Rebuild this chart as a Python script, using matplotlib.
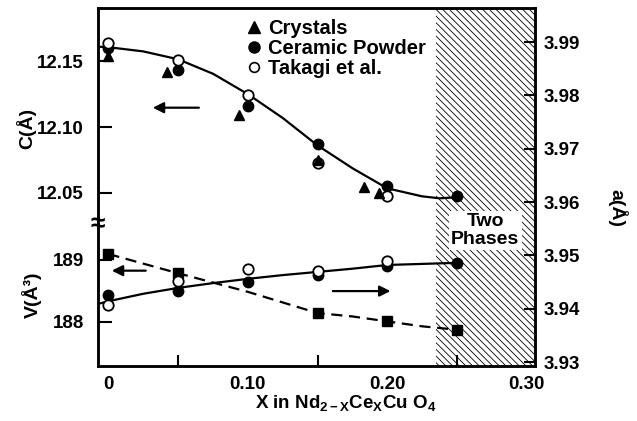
import matplotlib
matplotlib.use("Agg")
import matplotlib.pyplot as plt
from matplotlib.lines import Line2D

plt.rcParams['font.family'] = ['Liberation Sans', 'DejaVu Sans']
plt.rcParams['font.weight'] = 'bold'
plt.rcParams['mathtext.fontset'] = 'custom'
plt.rcParams['mathtext.rm'] = 'Liberation Sans:bold'
plt.rcParams['mathtext.it'] = 'Liberation Sans:bold'
plt.rcParams['mathtext.bf'] = 'Liberation Sans:bold'
plt.rcParams['hatch.linewidth'] = 0.6

# ---------------- data ----------------
# c-axis lattice parameter (left, upper scale)
x_cryst = [0.0, 0.042, 0.094, 0.15, 0.183, 0.194]
c_cryst = [12.1537, 12.142, 12.109, 12.075, 12.0544, 12.0498]
x_ceram = [0.0, 0.05, 0.10, 0.15, 0.20, 0.25]
c_ceram = [12.160, 12.1435, 12.1163, 12.087, 12.055, 12.0473]
x_takagi = [0.0, 0.05, 0.10, 0.15, 0.20]
c_takagi = [12.1639, 12.151, 12.1244, 12.0727, 12.0473]
# hand-drawn guide curve through c data
x_c_curve = [-0.0075, 0.0, 0.025, 0.05, 0.075, 0.10, 0.125, 0.15, 0.175,
             0.20, 0.225, 0.2375, 0.25]
c_curve = [12.1611, 12.1607, 12.1575, 12.1515, 12.1405, 12.1250, 12.1069,
           12.0860, 12.0687, 12.0534, 12.0473, 12.0458, 12.0466]

# a-axis lattice parameter (right scale)
a_ceram = [3.9425, 3.9434, 3.9450, 3.9463, 3.9481, 3.9486]
a_takagi = [3.9407, 3.9451, 3.9474, 3.9470, 3.9489]
x_a_curve = [-0.0075, 0.0, 0.025, 0.05, 0.075, 0.10, 0.125, 0.15, 0.175,
             0.20, 0.225, 0.25]
a_curve = [3.9409, 3.9414, 3.9428, 3.9439, 3.9448, 3.9456, 3.9463, 3.9469,
           3.9475, 3.9482, 3.9484, 3.9486]

# unit-cell volume (left, lower scale)
x_vol = [0.0, 0.05, 0.15, 0.20, 0.25]
v_vol = [189.097, 188.785, 188.14, 188.005, 187.87]
x_v_curve = [0.0, 0.05, 0.10, 0.15, 0.175, 0.20, 0.225, 0.25]
v_curve = [189.097, 188.785, 188.484, 188.14, 188.085, 188.005, 187.925, 187.87]

x_ticks = [0.0, 0.10, 0.20, 0.30]
x_tick_labels = ['0', '0.10', '0.20', '0.30']
x_minor = [0.05, 0.15, 0.25]
c_ticks = [12.05, 12.10, 12.15]
v_ticks = [188, 189]
a_ticks = [3.93, 3.94, 3.95, 3.96, 3.97, 3.98, 3.99]
two_phase_start = 0.235

# ---------------- figure ----------------
fig = plt.figure(figsize=(6.37, 4.21), dpi=100)
pos = [98 / 637, 1 - 366 / 421, (535 - 98) / 637, (366 - 8) / 421]
ax = fig.add_axes(pos)
ax.set_xlim(-0.0075, 0.306)
ax.set_ylim(11.9183, 12.1905)

ax_v = fig.add_axes(pos, sharex=ax)
ax_v.patch.set_visible(False)
ax_v.set_ylim(187.282, 193.084)
for s in ax_v.spines.values():
    s.set_visible(False)

ax_a = ax.twinx()
ax_a.set_ylim(3.92925, 3.9964)

for s in ax.spines.values():
    s.set_linewidth(1.8)
for s in ax_a.spines.values():
    s.set_linewidth(1.8)

# two-phase hatched region
ax.axvspan(two_phase_start, 0.306, facecolor='white', edgecolor='black',
           hatch='\\\\\\\\\\', linewidth=0, zorder=0)

ms = 7.5
# c curve and data
ax.plot(x_c_curve, c_curve, '-', color='black', lw=1.6, zorder=2)
ax.plot(x_ceram, c_ceram, 'o', color='black', ms=ms, zorder=3)
ax.plot(x_takagi, c_takagi, 'o', mfc='white', mec='black', mew=1.3, ms=ms, zorder=4)
ax.plot(x_cryst, c_cryst, '^', color='black', ms=ms, zorder=5)

# a curve and data
ax_a.plot(x_a_curve, a_curve, '-', color='black', lw=1.6, zorder=2)
ax_a.plot(x_ceram, a_ceram, 'o', color='black', ms=ms, zorder=3)
ax_a.plot(x_takagi, a_takagi, 'o', mfc='white', mec='black', mew=1.3, ms=ms, zorder=4)

# volume curve and data
ax_v.plot(x_v_curve, v_curve, '--', color='black', lw=1.6, dashes=(5, 3), zorder=2)
ax_v.plot(x_vol, v_vol, 's', color='black', ms=7, zorder=3)

# arrows
arr = dict(arrowstyle='-|>', color='black', lw=1.6, mutation_scale=16)
ax.annotate('', xy=(0.0298, 12.1147), xytext=(0.0669, 12.1147), arrowprops=arr)
ax_v.annotate('', xy=(0.0004, 188.827), xytext=(0.0287, 188.827), arrowprops=arr)
ax_a.annotate('', xy=(0.2043, 3.9433), xytext=(0.159, 3.9433), arrowprops=arr)

# ticks
tick_font = 13.5
ax.set_xticks(x_ticks)
ax.set_xticklabels(x_tick_labels, fontsize=tick_font, fontweight='bold')
ax.set_xticks(x_minor, minor=True)
ax.tick_params(axis='x', which='major', direction='in', length=0, pad=7)
ax.tick_params(axis='x', which='minor', direction='in', length=8, width=1.5)
ax.set_yticks(c_ticks)
ax.set_yticklabels([f'{t:.2f}' for t in c_ticks], fontsize=tick_font, fontweight='bold')
ax.tick_params(axis='y', direction='in', length=10, width=1.5, pad=10)

ax_v.set_yticks(v_ticks)
ax_v.set_yticklabels([str(t) for t in v_ticks], fontsize=tick_font, fontweight='bold')
ax_v.tick_params(axis='y', direction='in', length=10, width=1.5, pad=10)
ax_v.tick_params(axis='x', which='both', bottom=False, labelbottom=False)

ax_a.set_yticks(a_ticks)
ax_a.set_yticklabels([f'{t:.2f}' for t in a_ticks], fontsize=tick_font, fontweight='bold')
ax_a.tick_params(axis='y', direction='in', length=8, width=1.5, pad=6)

# axis labels
fig.text(346 / 637, 1 - 408 / 421,
         r'X in Nd$_{\mathrm{2-X}}$Ce$_{\mathrm{X}}$Cu O$_{\mathrm{4}}$',
         fontsize=13.5, fontweight='bold', ha='center', va='baseline')
fig.text(26 / 637, 1 - 128 / 421, 'C(Å)', rotation=90, fontsize=14,
         fontweight='bold', ha='center', va='center')
fig.text(32 / 637, 1 - 295 / 421, 'V(Å³)', rotation=90, fontsize=14,
         fontweight='bold', ha='center', va='center')
fig.text(617 / 637, 1 - 208 / 421, 'a(Å)', rotation=270, fontsize=14,
         fontweight='bold', ha='center', va='center')

# axis break mark
ax.text(0.0, (366 - 224) / 358, '≈', transform=ax.transAxes, rotation=0,
        fontsize=19, ha='center', va='center', fontweight='bold',
        zorder=10, clip_on=False)

# two phases label
ax.text(0.2703, 12.0215, 'Two\nPhases', fontsize=14, fontweight='bold',
        ha='center', va='center', linespacing=1.05,
        bbox=dict(facecolor='white', edgecolor='none', pad=1.5), zorder=6)

# legend
handles = [
    Line2D([], [], marker='^', color='black', ls='none', ms=9),
    Line2D([], [], marker='o', color='black', ls='none', ms=8),
    Line2D([], [], marker='o', mfc='white', mec='black', mew=1.2, ls='none', ms=7),
]
labels = ['Crystals', 'Ceramic Powder', 'Takagi et al.']
ax.legend(handles, labels, loc='upper left', bbox_to_anchor=(0.33, 0.981),
          frameon=False, prop={'weight': 'bold', 'size': 14.5},
          handlelength=0.8, handletextpad=0.3, labelspacing=0.05,
          borderpad=0.2, borderaxespad=0)

fig.savefig('out.png', dpi=100)
